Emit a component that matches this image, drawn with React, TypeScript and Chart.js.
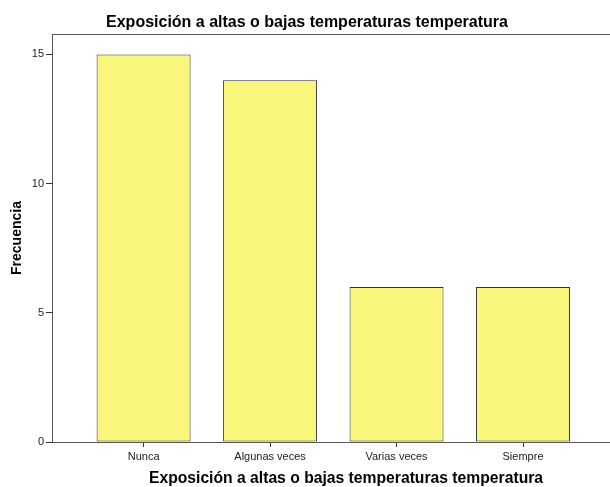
import React, { useEffect, useRef } from "react";
import { Chart, registerables } from "chart.js";

Chart.register(...registerables);

const chartTitle = "Exposición a altas o bajas temperaturas temperatura";
const xAxisTitle = "Exposición a altas o bajas temperaturas temperatura";
const yAxisTitle = "Frecuencia";
const categories = ["Nunca", "Algunas veces", "Varias veces", "Siempre"];
const frequencies = [15, 14, 6, 6];
const yTicks = [0, 5, 10, 15];

const FONT = '"Liberation Sans", Arial, Helvetica, sans-serif';

export default function App() {
  const ref = useRef<HTMLCanvasElement>(null);

  useEffect(() => {
    if (!ref.current) return;
    const framePlugin = {
      id: "frameAndTitle",
      afterDraw(chart: any) {
        const { ctx, chartArea } = chart;
        ctx.save();
        ctx.strokeStyle = "#555";
        ctx.lineWidth = 1;
        ctx.beginPath();
        ctx.moveTo(chartArea.left, Math.round(chartArea.top) + 0.5);
        ctx.lineTo(chartArea.right, Math.round(chartArea.top) + 0.5);
        ctx.stroke();
        ctx.font = `bold 16px ${FONT}`;
        ctx.fillStyle = "#000";
        ctx.textAlign = "center";
        ctx.textBaseline = "middle";
        ctx.fillText(chartTitle, 307, 23);
        ctx.restore();
      },
    };

    const chart = new Chart(ref.current, {
      type: "bar",
      data: {
        datasets: [
          {
            data: categories.map((c, i) => ({ x: i + 1, y: frequencies[i] })),
            backgroundColor: "#F9F77B",
            borderColor: "#333",
            borderWidth: 1,
            borderSkipped: false,
            barPercentage: 0.743,
            categoryPercentage: 1,
          },
        ],
      },
      options: {
        animation: false,
        responsive: false,
        layout: { padding: { top: 34, left: 0, right: 0, bottom: 0 } },
        plugins: {
          legend: { display: false },
          tooltip: { enabled: false },
          title: { display: false },
        },
        scales: {
          x: {
            type: "linear",
            min: 0.2757,
            max: 4.925,
            offset: false,
            afterBuildTicks: (s: any) => {
              s.ticks = categories.map((_, i) => ({ value: i + 1 }));
            },
            afterFit: (s: any) => {
              s.height = 45;
            },
            ticks: {
              callback: (v: any) => categories[Number(v) - 1] ?? "",
              autoSkip: false,
              maxRotation: 0,
              minRotation: 0,
              padding: 3,
              color: "#222",
              font: { family: FONT, size: 11 },
            },
            grid: {
              drawOnChartArea: false,
              drawTicks: true,
              tickLength: 5,
              color: "#333",
              offset: false,
            },
            border: { display: true, color: "#555" },
            title: {
              display: true,
              text: xAxisTitle,
              color: "#000",
              font: { family: FONT, size: 15.7, weight: "bold", lineHeight: 1 },
              padding: { top: 0, bottom: 0 },
            },
          },
          y: {
            type: "linear",
            min: 0,
            max: 15.79,
            afterBuildTicks: (s: any) => {
              s.ticks = yTicks.map((v) => ({ value: v }));
            },
            afterFit: (s: any) => {
              s.width = 52;
            },
            ticks: {
              padding: 2,
              color: "#222",
              font: { family: FONT, size: 11 },
            },
            grid: {
              drawOnChartArea: false,
              drawTicks: true,
              tickLength: 6,
              color: "#333",
            },
            border: { display: true, color: "#555" },
            title: {
              display: true,
              text: yAxisTitle,
              color: "#000",
              font: { family: FONT, size: 14, weight: "bold", lineHeight: 1.2 },
              padding: { top: 9, bottom: 0 },
            },
          },
        },
      },
      plugins: [framePlugin],
    } as any);

    return () => chart.destroy();
  }, []);

  return (
    <div
      style={{
        position: "fixed",
        left: 0,
        top: 0,
        width: 610,
        height: 487,
        overflow: "hidden",
        background: "#fff",
      }}
    >
      <canvas
        ref={ref}
        width={640}
        height={487}
        style={{ display: "block", width: 640, height: 487 }}
      />
    </div>
  );
}
